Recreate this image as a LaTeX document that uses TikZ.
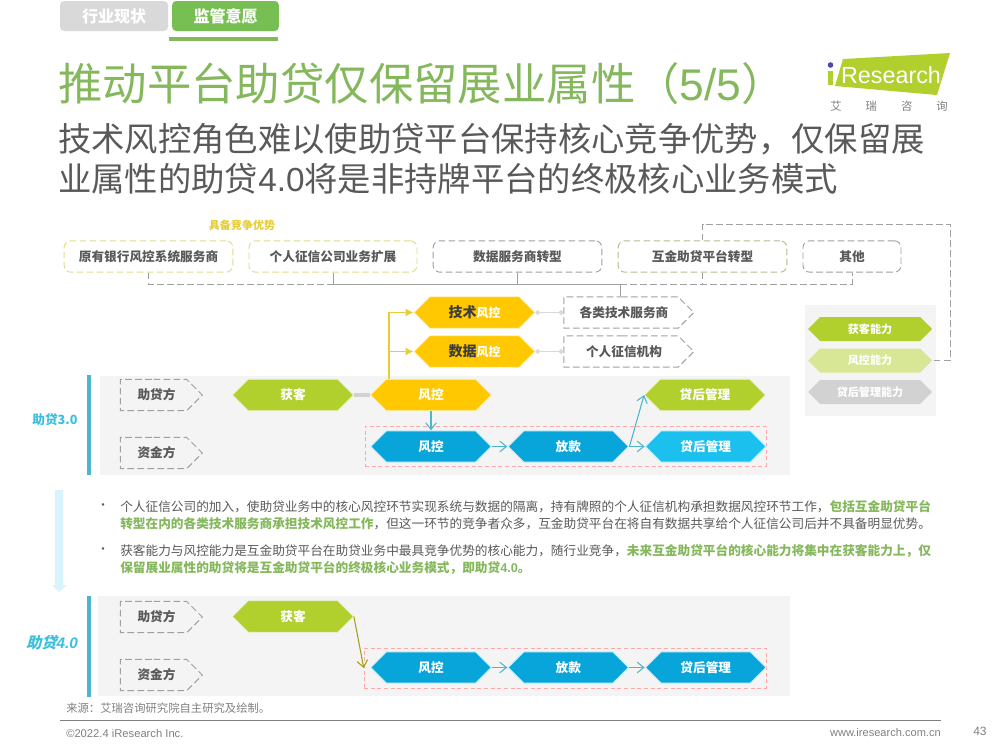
\documentclass[tikz,border=0pt]{standalone}
\usepackage{fontspec}
\setmainfont{Noto Sans CJK SC}
\newfontfamily\latfont{Liberation Sans}
\newfontfamily\slantfont[FakeSlant=0.25]{Noto Sans CJK SC}
\usepackage{xcolor}
\usetikzlibrary{arrows.meta,positioning,fit,calc,shapes.symbols}

\definecolor{leafgreen}{HTML}{B1CF2D}
\definecolor{titlegreen}{HTML}{85B85C}
\definecolor{sungold}{HTML}{FFC800}
\definecolor{deepblue}{HTML}{07A5D9}
\definecolor{skyblue}{HTML}{1CC0EF}
\definecolor{barblue}{HTML}{4DB6CE}
\definecolor{tagblue}{HTML}{3CBFDD}
\definecolor{inkgrey}{HTML}{595959}
\definecolor{panelgrey}{HTML}{F4F4F4}
\definecolor{dashgrey}{HTML}{A0A0A0}
\definecolor{paleyellow}{HTML}{DEDB8E}
\definecolor{paleolive}{HTML}{B8B88A}
\definecolor{linegold}{HTML}{E6CD3A}

\begin{document}
\begin{tikzpicture}[
    x=0.75pt, y=-0.75pt,
    node distance=11.4pt,
    hexbox/.style={shape=signal, signal to=east and west, signal pointer angle=90, inner sep=0pt, minimum width=90.5pt, minimum height=23.5pt, text=white, font=\bfseries\fontsize{9.5}{11}\selectfont},
    greenhex/.style={hexbox, fill=leafgreen, draw=leafgreen!30, line width=0.6pt},
    goldhex/.style={hexbox, fill=sungold, draw=sungold!30, line width=0.6pt},
    bluehex/.style={hexbox, fill=deepblue, draw=cyan!20, line width=0.8pt},
    legendhex/.style={hexbox, minimum width=93pt, minimum height=18pt, font=\bfseries\fontsize{8.3}{10}\selectfont},
    rolebox/.style={shape=signal, signal to=east, signal pointer angle=90, draw=dashgrey, line width=0.7pt, dash pattern=on 5pt off 2.5pt, inner sep=0pt, minimum height=23.5pt, text=inkgrey, font=\bfseries\fontsize{9.5}{11}\selectfont, execute at begin node=\hspace*{4.5pt}},
    kindbox/.style={draw=dashgrey, line width=0.7pt, dash pattern=on 5pt off 2.5pt, rounded corners=5pt, minimum height=23.5pt, text=inkgrey, font=\bfseries\fontsize{9.5}{11}\selectfont},
    panel/.style={fill=panelgrey, inner sep=0pt},
    pinkbox/.style={draw=red!35, densely dashed, inner sep=0pt},
    busline/.style={dashgrey, line width=0.6pt, dash pattern=on 5pt off 2.5pt},
    link/.style={gray!30, line width=0.8pt, {Circle[length=3.5pt]}-{Circle[length=3.5pt]}},
    goldarr/.style={linegold, line width=1pt, -{Latex[length=6pt,width=6pt]}},
    bluearr/.style={barblue, line width=0.8pt, -{Straight Barb[length=5pt,width=8pt]}},
    body/.style={anchor=west, align=left, text=inkgrey, font=\fontsize{9.5}{13.1}\selectfont},
    note/.style={anchor=west, text=gray, font=\fontsize{8}{10}\selectfont}
]
\useasboundingbox (0,0) rectangle (1000,750);
\newcommand{\hilite}[1]{\textcolor{titlegreen}{\bfseries #1}}

% header
\node[fill=gray!30, rounded corners=3pt, minimum width=81pt, minimum height=22.5pt, text=white, font=\bfseries\fontsize{12}{14}\selectfont] (tabtrade) at (114,16) {行业现状};
\node[fill=titlegreen!90!green, rounded corners=3pt, minimum width=80pt, minimum height=22.5pt, text=white, font=\bfseries\fontsize{12}{14}\selectfont] (tabrule) at (225.5,16) {监管意愿};
\fill[titlegreen] (169,37) rectangle (278,41);
\node[anchor=west, inner sep=0pt, text=titlegreen, font=\fontsize{33.3}{38}\selectfont] (headline) at (58,84) {推动平台助贷仅保留展业属性（{\latfont 5/5}）};
\node[anchor=north west, inner sep=0pt, align=left, text=inkgrey, font=\fontsize{25}{30}\selectfont] (subline) at (58,123) {技术风控角色难以使助贷平台保持核心竞争优势，仅保留展\\业属性的助贷{\latfont 4.0}将是非持牌平台的终极核心业务模式};

% logo
\fill[leafgreen] (843,59) -- (950,53) -- (937,95) -- (835,86) -- cycle;
\fill[leafgreen] (828,71) rectangle (833,85);
\fill[blue!50!black!70] (830.5,65) circle (2.8);
\node[inner sep=0pt, text=white, font=\latfont\fontsize{17.5}{19}\selectfont] (logoword) at (891,75) {Research};
\node[inner sep=0pt, text=gray, font=\fontsize{8.5}{10}\selectfont] (logocn) at (889,106) {艾\hspace{18pt}瑞\hspace{18pt}咨\hspace{18pt}询};

% providers
\node[text=linegold, font=\bfseries\fontsize{8.3}{10}\selectfont] (edge) at (242,225) {具备竞争优势};
\node[kindbox, draw=paleyellow, minimum width=126.5pt] (bankbox) at (148.5,256.5) {原有银行风控系统服务商};
\node[kindbox, draw=paleyellow, minimum width=126pt] (creditbox) at (333,256.5) {个人征信公司业务扩展};
\node[kindbox, minimum width=126.5pt] (databox) at (517.5,256.5) {数据服务商转型};
\node[kindbox, draw=paleolive, minimum width=126.5pt] (platbox) at (702.5,256.5) {互金助贷平台转型};
\node[kindbox, minimum width=73.5pt] (otherbox) at (852,256.5) {其他};

% panels
\node[panel, fit={(100,376)(790,475)}] (panelthree) {};
\node[panel, fit={(98,596)(790,696)}] (panelfour) {};
\node[panel, fit={(805,305)(936,416)}] (panellegend) {};
\fill[barblue] (87,375) rectangle (91,475);
\fill[barblue] (87,596) rectangle (91,697);
\node[text=tagblue, font=\bfseries\fontsize{9.5}{11}\selectfont] (tagthree) at (55,420) {助贷3.0};
\node[text=tagblue, font=\slantfont\bfseries\fontsize{11.5}{13}\selectfont] (tagfour) at (52,643) {助贷{\latfont\itshape 4.0}};
\fill[cyan!15] (55,490) -- (63,490) -- (63,585) -- (67,585) -- (59,592) -- (52,585) -- (55,585) -- cycle;

% risk layers
\node[goldhex, text=inkgrey!70!black] (techhex) at (474.5,312.5) {\fontsize{10.5}{12}\selectfont 技术{\fontsize{9}{11}\selectfont\textcolor{white}{风控}}};
\node[goldhex, text=inkgrey!70!black] (datahex) at (474.5,351.5) {\fontsize{10.5}{12}\selectfont 数据{\fontsize{9}{11}\selectfont\textcolor{white}{风控}}};
\node[rolebox, minimum width=97.5pt] (techrole) at (621,312.5) {各类技术服务商};
\node[rolebox, minimum width=97.5pt] (datarole) at (621,351.5) {个人征信机构};

% lending 3.0
\node[rolebox, minimum width=61.5pt] (lendrole) at (153.5,395) {助贷方};
\node[rolebox, minimum width=61.5pt] (fundrole) at (153.5,453) {资金方};
\node[greenhex] (gainthree) at (293,395) {获客};
\node[goldhex] (riskthree) at (431,395) {风控};
\node[greenhex] (postgreen) at (705,395) {贷后管理};
\node[pinkbox, fit={(365,426)(766,466)}] (frontthree) {};
\node[bluehex] (riskblue) at (431,446.5) {风控};
\node[bluehex, right=of riskblue] (loanblue) {放款};
\node[bluehex, fill=skyblue, right=of loanblue] (postblue) {贷后管理};

% lending 4.0
\node[rolebox, minimum width=61.5pt] (lendfour) at (153.5,617) {助贷方};
\node[rolebox, minimum width=61.5pt] (fundfour) at (153.5,675) {资金方};
\node[greenhex] (gainfour) at (293,616.5) {获客};
\node[pinkbox, fit={(364,648)(766,688)}] (frontfour) {};
\node[bluehex] (riskfour) at (431,667.5) {风控};
\node[bluehex, right=of riskfour] (loanfour) {放款};
\node[bluehex, right=of loanfour] (postfour) {贷后管理};

% legend
\node[legendhex, fill=leafgreen] (legendgain) at (870,329) {获客能力};
\node[legendhex, fill=leafgreen!50] (legendrisk) at (870,360.5) {风控能力};
\node[legendhex, fill=gray!35] (legendpost) at (870,392) {贷后管理能力};

% connectors
\coordinate (busy) at (0,284);
\coordinate (busdrop) at (620,284);
\coordinate (riskup) at (389,379);
\draw[busline] (bankbox.south) |- (creditbox.south |- busy);
\draw[busline, solid] (creditbox.south) -- (creditbox.south |- busy) -- (busdrop);
\draw[busline, solid] (databox.south) -- (databox.south |- busy);
\draw[busline, solid] (busdrop) -- (busdrop |- techrole.north);
\draw[busline] (busdrop) -| (otherbox.south);
\draw[busline] (platbox.south) -- (platbox.south |- busy);
\draw[busline] (platbox.north) |- (950,224) |- (legendrisk.east);
\draw[goldarr] (riskup) |- (techhex.west);
\draw[goldarr] (riskup) |- (datahex.west);
\draw[link] (techhex.east) -- (techrole.west);
\draw[link] (datahex.east) -- (datarole.west);
\draw[gray!35, line width=2.5pt] (gainthree.east) -- (riskthree.west);
\draw[bluearr] (riskthree.south) -- (riskblue.north);
\draw[bluearr] (riskblue.east) -- (loanblue.west);
\draw[bluearr] (loanblue.east) -- (postblue.west);
\draw[bluearr] (loanblue.east) -- (postgreen.west);
\draw[bluearr, draw=olive!60!leafgreen] (gainfour.east) -- (frontfour.west);
\draw[bluearr] (riskfour.east) -- (loanfour.west);
\draw[bluearr] (loanfour.east) -- (postfour.west);

% text
\node[text=inkgrey, font=\fontsize{9}{10}\selectfont] (dotone) at (103,507) {•};
\node[text=inkgrey, font=\fontsize{9}{10}\selectfont] (dottwo) at (103,551) {•};
\node[body, inner sep=0pt] (textone) at (120,515) {个人征信公司的加入，使助贷业务中的核心风控环节实现系统与数据的隔离，持有牌照的个人征信机构承担数据风控环节工作，\hilite{包括互金助贷平台}\\\hilite{转型在内的各类技术服务商承担技术风控工作}，但这一环节的竞争者众多，互金助贷平台在将自有数据共享给个人征信公司后并不具备明显优势。};
\node[body, inner sep=0pt] (texttwo) at (120,559.5) {获客能力与风控能力是互金助贷平台在助贷业务中最具竞争优势的核心能力，随行业竞争，\hilite{未来互金助贷平台的核心能力将集中在获客能力上，仅}\\\hilite{保留展业属性的助贷将是互金助贷平台的终极核心业务模式，即助贷{\latfont 4.0}。}};

% footer
\node[note, inner sep=0pt, font=\fontsize{8.5}{10}\selectfont] (source) at (66,708) {来源：艾瑞咨询研究院自主研究及绘制。};
\draw[gray, line width=0.6pt] (60,720) -- (941,720);
\node[note, inner sep=0pt, font=\latfont\fontsize{8.4}{10}\selectfont] (copy) at (66,733) {©2022.4 iResearch Inc.};
\node[note, inner sep=0pt, anchor=east, font=\latfont\fontsize{8.3}{10}\selectfont] (site) at (941,733) {www.iresearch.com.cn};
\node[note, inner sep=0pt, font=\latfont\fontsize{9}{10}\selectfont] (pageno) at (973,731) {43};
\end{tikzpicture}
\end{document}
